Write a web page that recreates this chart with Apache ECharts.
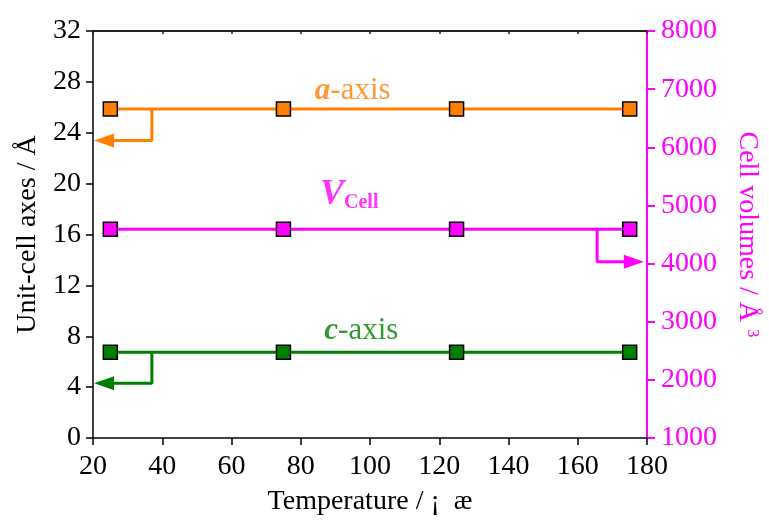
<!DOCTYPE html>
<html>
<head>
<meta charset="utf-8">
<script src="https://cdn.jsdelivr.net/npm/echarts@6/dist/echarts.min.js"></script>
<style>
  html, body { margin: 0; padding: 0; background: #fff; }
  #chart { width: 769px; height: 523px; }
</style>
</head>
<body>
<div id="chart"></div>
<script>
// Temperatures (°C) and refined lattice parameters
const temperatures = [25, 75, 125, 175];
const aAxis = [25.86, 25.86, 25.86, 25.86];      // Å
const cAxis = [6.75, 6.75, 6.75, 6.75];          // Å
const cellVolume = [4590, 4590, 4590, 4590];     // Å^3

// Guide arrows tying each curve to its axis: [x, y] corner points
const aArrow = [[37, 25.86], [37, 23.4], [23.2, 23.4]];
const cArrow = [[37, 6.75], [37, 4.3], [23.2, 4.3]];
const vArrow = [[165.6, 4590], [165.6, 4030], [176.2, 4030]];

// Curve labels: anchor positions in data units
const aLabelPos = [95, 27.3];
const cLabelPos = [97.5, 8.4];
const vLabelPos = [94, 5180];

const ORANGE = '#FF8000';
const MAGENTA = '#FF00FF';
const GREEN = '#008000';
const FONT = '"Liberation Serif", "Times New Roman", serif';
const FS = 28;

function squares(xs, ys, color, yAxisIndex) {
  return {
    type: 'line',
    yAxisIndex: yAxisIndex,
    data: xs.map((x, i) => [x, ys[i]]),
    symbol: 'rect',
    symbolSize: 14,
    lineStyle: { color: color, width: 3 },
    itemStyle: { color: color, borderColor: '#000', borderWidth: 1.5 },
    z: 5,
    animation: false
  };
}

function arrow(points, color, yAxisIndex, rotate) {
  const data = points.map((p, i) => {
    if (i === points.length - 1) {
      return { value: p, symbol: 'triangle', symbolSize: [14, 20], symbolRotate: rotate };
    }
    return { value: p, symbol: 'none' };
  });
  return {
    type: 'line',
    yAxisIndex: yAxisIndex,
    data: data,
    lineStyle: { color: color, width: 3 },
    itemStyle: { color: color, borderWidth: 0 },
    z: 4,
    animation: false
  };
}

function textLabel(pos, yAxisIndex, formatter, rich) {
  return {
    type: 'scatter',
    yAxisIndex: yAxisIndex,
    data: [pos],
    symbolSize: 0,
    silent: true,
    label: {
      show: true,
      position: 'inside',
      formatter: formatter,
      rich: rich
    },
    z: 6,
    animation: false
  };
}

const plain = v => String(v);

const chart = echarts.init(document.getElementById('chart'), null, { renderer: 'canvas' });

chart.setOption({
  backgroundColor: '#fff',
  animation: false,
  textStyle: { fontFamily: FONT },
  grid: { left: 93, right: 121, top: 31, bottom: 85, containLabel: false },
  xAxis: [
    {
      type: 'value',
      position: 'bottom',
      min: 20, max: 180, interval: 20,
      name: 'Temperature / ¡  æ',
      nameLocation: 'middle',
      nameGap: 50,
      nameTextStyle: { fontFamily: FONT, fontSize: FS, color: '#000' },
      axisLine: { lineStyle: { color: '#000', width: 1.5 } },
      axisTick: { inside: false, length: 7, lineStyle: { color: '#000', width: 1.5 } },
      axisLabel: { fontFamily: FONT, fontSize: FS, color: '#000', margin: 15, formatter: plain },
      splitLine: { show: false }
    },
    {
      type: 'value',
      position: 'top',
      min: 20, max: 180, interval: 20,
      axisLine: { show: true, lineStyle: { color: '#222', width: 2 } },
      axisTick: { show: true, inside: true, length: 3, lineStyle: { color: '#222', width: 1.5 } },
      axisLabel: { show: false },
      splitLine: { show: false }
    }
  ],
  yAxis: [
    {
      type: 'value',
      position: 'left',
      min: 0, max: 32, interval: 4,
      name: 'Unit-cell axes / Å',
      nameLocation: 'middle',
      nameGap: 51,
      nameTextStyle: { fontFamily: FONT, fontSize: FS, color: '#000' },
      axisLine: { show: true, lineStyle: { color: '#000', width: 1.5 } },
      axisTick: { show: true, inside: false, length: 7, lineStyle: { color: '#000', width: 1.5 } },
      axisLabel: { fontFamily: FONT, fontSize: FS, color: '#000', margin: 12, formatter: plain },
      splitLine: { show: false }
    },
    {
      type: 'value',
      position: 'right',
      min: 1000, max: 8000, interval: 1000,
      name: 'Cell volumes / Å {sup|3}',
      nameLocation: 'middle',
      nameGap: 86,
      nameRotate: -90,
      nameTextStyle: {
        fontFamily: FONT, fontSize: FS, color: MAGENTA,
        rich: { sup: { fontFamily: FONT, fontSize: 17, color: MAGENTA, verticalAlign: 'top', padding: [0, 0, 10, 0] } }
      },
      axisLine: { show: true, lineStyle: { color: MAGENTA, width: 2 } },
      axisTick: { show: true, inside: false, length: 8, lineStyle: { color: MAGENTA, width: 2 } },
      axisLabel: { fontFamily: FONT, fontSize: FS, color: MAGENTA, margin: 14, formatter: plain },
      splitLine: { show: false }
    }
  ],
  series: [
    arrow(aArrow, ORANGE, 0, 90),
    arrow(cArrow, GREEN, 0, 90),
    arrow(vArrow, MAGENTA, 1, -90),
    squares(temperatures, aAxis, ORANGE, 0),
    squares(temperatures, cAxis, GREEN, 0),
    squares(temperatures, cellVolume, MAGENTA, 1),
    textLabel(aLabelPos, 0, '{i|a}{n|-axis}', {
      i: { fontFamily: FONT, fontSize: 31, fontStyle: 'italic', fontWeight: 'bold', color: ORANGE },
      n: { fontFamily: FONT, fontSize: 31, color: ORANGE }
    }),
    textLabel(cLabelPos, 0, '{i|c}{n|-axis}', {
      i: { fontFamily: FONT, fontSize: 31, fontStyle: 'italic', fontWeight: 'bold', color: GREEN },
      n: { fontFamily: FONT, fontSize: 31, color: GREEN }
    }),
    textLabel(vLabelPos, 1, '{v|V}{s|Cell}', {
      v: { fontFamily: FONT, fontSize: 36, fontStyle: 'italic', fontWeight: 'bold', color: MAGENTA, verticalAlign: 'top' },
      s: { fontFamily: FONT, fontSize: 20, fontWeight: 'bold', color: MAGENTA, verticalAlign: 'bottom', padding: [16, 0, 0, 0] }
    })
  ]
});
</script>
</body>
</html>
